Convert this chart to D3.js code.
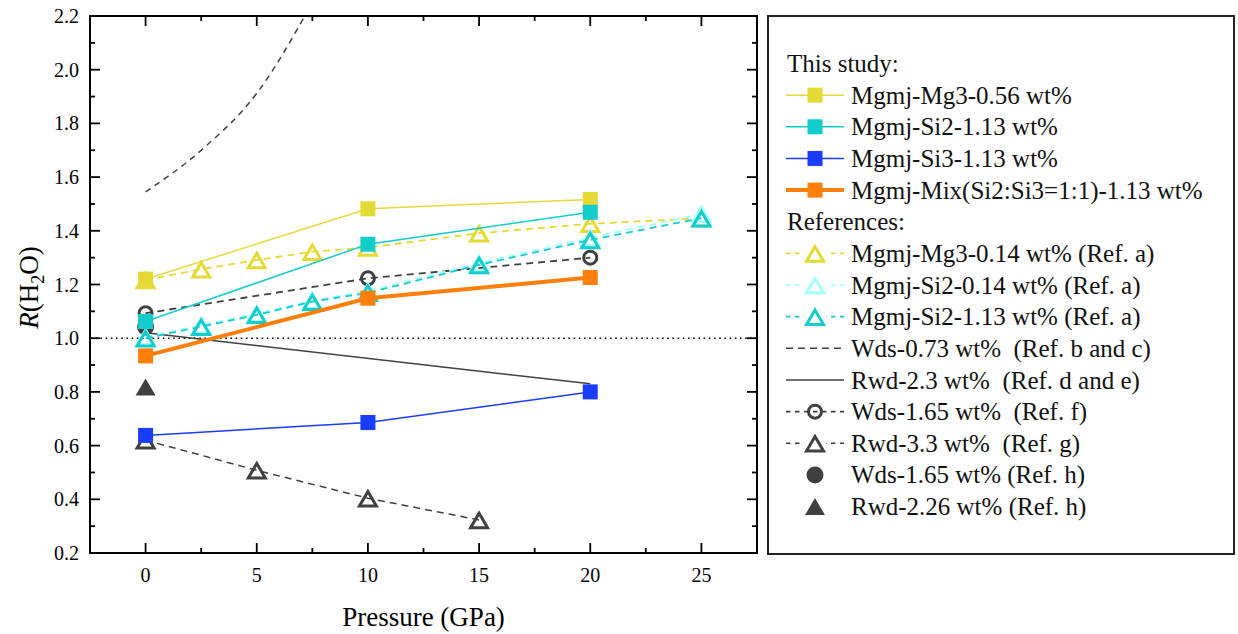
<!DOCTYPE html>
<html>
<head>
<meta charset="utf-8">
<script src="https://cdn.jsdelivr.net/npm/d3@7"></script>
<style>
  body { margin: 0; background: #fff; }
</style>
</head>
<body>
<div id="chart"></div>
<script>
// this study
const studyP = [0, 10, 20];
const mg3_056 = [1.22, 1.482, 1.517];
const si2_113 = [1.062, 1.35, 1.469];
const si3_113 = [0.638, 0.686, 0.80];
const mix_113 = [0.934, 1.149, 1.226];

// references (a)
const refAP = [0, 2.5, 5, 7.5, 10, 15, 20, 25];
const mg3_014 = [1.217, 1.257, 1.291, 1.322, 1.338, 1.391, 1.426, 1.447];
const si2_014 = [1.005, 1.048, 1.092, 1.14, 1.176, 1.28, 1.374, 1.463];
const si2_113a = [1.0, 1.043, 1.087, 1.136, 1.169, 1.273, 1.366, 1.447];

// references b-h
const wdsBcP = [0, 2.5, 5, 7.5];
const wds073 = [1.545, 1.70, 1.912, 2.25];
const rwdDeP = [0, 20];
const rwd23 = [1.02, 0.83];
const wdsFP = [0, 10, 20];
const wds165f = [1.093, 1.223, 1.30];
const rwdGP = [0, 5, 10, 15];
const rwd33 = [0.62, 0.508, 0.404, 0.323];
const wdsHP = [0];
const wds165h = [1.042];
const rwdHP = [0];
const rwd226 = [0.818];

const xTicks = [0, 5, 10, 15, 20, 25];
const xMinor = [2.5, 7.5, 12.5, 17.5, 22.5];
const yTicks = [0.2, 0.4, 0.6, 0.8, 1.0, 1.2, 1.4, 1.6, 1.8, 2.0, 2.2];
const yMinor = [0.3, 0.5, 0.7, 0.9, 1.1, 1.3, 1.5, 1.7, 1.9, 2.1];

const YEL = "#e5d936", CYA = "#14cccc", BLU = "#1a3cff", ORA = "#ff7f0a", DRK = "#404040", LCY = "#a6ffff";
const SERIF = "Liberation Serif, Times New Roman, Times, Tinos, Nimbus Roman, Noto Serif, DejaVu Serif, FreeSerif, serif";

const W = 1238, H = 634;
const plot = {left: 90, right: 757, top: 16, bottom: 553};

const x = d3.scaleLinear().domain([-2.5, 27.5]).range([plot.left, plot.right]);
const y = d3.scaleLinear().domain([0.2, 2.2]).range([plot.bottom, plot.top]);

const svg = d3.select("#chart").append("svg")
  .attr("width", W).attr("height", H)
  .style("font-family", SERIF);
svg.append("rect").attr("width", W).attr("height", H).attr("fill", "#fff");

svg.append("clipPath").attr("id", "clip")
  .append("rect")
  .attr("x", plot.left).attr("y", plot.top)
  .attr("width", plot.right - plot.left).attr("height", plot.bottom - plot.top);

// markers
function triPath(w, h) {
  return "M0," + (-h / 2) + "L" + (w / 2) + "," + (h / 2) + "L" + (-w / 2) + "," + (h / 2) + "Z";
}
function drawMarker(g, type, cx, cy, color) {
  if (type === "square") {
    g.append("rect").attr("x", cx - 7.5).attr("y", cy - 7.5)
      .attr("width", 15).attr("height", 15).attr("fill", color);
  } else if (type === "tri") {
    g.append("path").attr("d", triPath(17, 14.5))
      .attr("transform", "translate(" + cx + "," + (cy + 0.5) + ")")
      .attr("fill", "none").attr("stroke", color).attr("stroke-width", 3);
  } else if (type === "trifill") {
    g.append("path").attr("d", triPath(20, 17))
      .attr("transform", "translate(" + cx + "," + cy + ")")
      .attr("fill", color);
  } else if (type === "circle") {
    g.append("circle").attr("cx", cx).attr("cy", cy).attr("r", 6.5)
      .attr("fill", "none").attr("stroke", color).attr("stroke-width", 3);
  } else if (type === "dot") {
    g.append("circle").attr("cx", cx).attr("cy", cy).attr("r", 8.5)
      .attr("fill", color);
  }
}

const series = [
  {name: "Wds-0.73 wt%  (Ref. b and c)", px: wdsBcP, v: wds073, color: DRK, dash: "6,5", lw: 1.5, marker: null, curve: d3.curveMonotoneX},
  {name: "Rwd-2.3 wt%  (Ref. d and e)", px: rwdDeP, v: rwd23, color: DRK, dash: null, lw: 1.5, marker: null},
  {name: "Wds-1.65 wt%  (Ref. f)", px: wdsFP, v: wds165f, color: DRK, dash: "7,5", lw: 1.8, marker: "circle"},
  {name: "Rwd-3.3 wt%  (Ref. g)", px: rwdGP, v: rwd33, color: DRK, dash: "7,5", lw: 1.5, marker: "tri"},
  {name: "Wds-1.65 wt% (Ref. h)", px: wdsHP, v: wds165h, color: DRK, dash: null, lw: 0, marker: "dot"},
  {name: "Rwd-2.26 wt% (Ref. h)", px: rwdHP, v: rwd226, color: DRK, dash: null, lw: 0, marker: "trifill"},
  {name: "Mgmj-Mg3-0.14 wt% (Ref. a)", px: refAP, v: mg3_014, color: YEL, dash: "7,5", lw: 1.8, marker: "tri"},
  {name: "Mgmj-Si2-0.14 wt% (Ref. a)", px: refAP, v: si2_014, color: LCY, dash: "7,5", lw: 1.8, marker: "tri"},
  {name: "Mgmj-Si2-1.13 wt% (Ref. a)", px: refAP, v: si2_113a, color: CYA, dash: "7,5", lw: 1.8, marker: "tri"},
  {name: "Mgmj-Mg3-0.56 wt%", px: studyP, v: mg3_056, color: YEL, dash: null, lw: 1.5, marker: "square"},
  {name: "Mgmj-Si2-1.13 wt%", px: studyP, v: si2_113, color: CYA, dash: null, lw: 1.5, marker: "square"},
  {name: "Mgmj-Si3-1.13 wt%", px: studyP, v: si3_113, color: BLU, dash: null, lw: 1.5, marker: "square"},
  {name: "Mgmj-Mix(Si2:Si3=1:1)-1.13 wt%", px: studyP, v: mix_113, color: ORA, dash: null, lw: 4, marker: "square"}
];

// reference line at R = 1
svg.append("line")
  .attr("x1", plot.left).attr("x2", plot.right)
  .attr("y1", y(1)).attr("y2", y(1))
  .attr("stroke", "#000").attr("stroke-width", 1.6)
  .attr("stroke-dasharray", "1.6,3.6");

const dataG = svg.append("g").attr("clip-path", "url(#clip)");

series.forEach(s => {
  const pts = s.px.map((p, i) => [p, s.v[i]]);
  if (s.lw > 0 && pts.length > 1) {
    const line = d3.line().x(d => x(d[0])).y(d => y(d[1])).curve(s.curve || d3.curveLinear);
    dataG.append("path").datum(pts)
      .attr("d", line)
      .attr("fill", "none")
      .attr("stroke", s.color)
      .attr("stroke-width", s.lw)
      .attr("stroke-dasharray", s.dash);
  }
  if (s.marker) {
    pts.forEach(d => drawMarker(dataG, s.marker, x(d[0]), y(d[1]), s.color));
  }
});

// axes
const fontTick = 20;
const axisG = svg.append("g");
axisG.append("rect")
  .attr("x", plot.left).attr("y", plot.top)
  .attr("width", plot.right - plot.left).attr("height", plot.bottom - plot.top)
  .attr("fill", "none").attr("stroke", "#000").attr("stroke-width", 2);

function vTick(px, len) {
  axisG.append("line").attr("x1", px).attr("x2", px)
    .attr("y1", plot.bottom).attr("y2", plot.bottom - len).attr("stroke", "#000").attr("stroke-width", 1.8);
  axisG.append("line").attr("x1", px).attr("x2", px)
    .attr("y1", plot.top).attr("y2", plot.top + len).attr("stroke", "#000").attr("stroke-width", 1.8);
}
function hTick(py, len) {
  axisG.append("line").attr("y1", py).attr("y2", py)
    .attr("x1", plot.left).attr("x2", plot.left + len).attr("stroke", "#000").attr("stroke-width", 1.8);
  axisG.append("line").attr("y1", py).attr("y2", py)
    .attr("x1", plot.right).attr("x2", plot.right - len).attr("stroke", "#000").attr("stroke-width", 1.8);
}
xTicks.forEach(t => vTick(x(t), 10));
xMinor.forEach(t => vTick(x(t), 5));
yTicks.forEach(t => hTick(y(t), 10));
yMinor.forEach(t => hTick(y(t), 5));

axisG.selectAll(".xl").data(xTicks).enter().append("text")
  .attr("x", d => x(d)).attr("y", 582)
  .attr("text-anchor", "middle").attr("font-size", fontTick)
  .text(d => d);
axisG.selectAll(".yl").data(yTicks).enter().append("text")
  .attr("x", 79).attr("y", d => y(d) + 7)
  .attr("text-anchor", "end").attr("font-size", fontTick)
  .text(d => d3.format(".1f")(d));

svg.append("text")
  .attr("x", (plot.left + plot.right) / 2).attr("y", 626)
  .attr("text-anchor", "middle").attr("font-size", 27)
  .text("Pressure (GPa)");

const yl = svg.append("text")
  .attr("transform", "translate(38," + ((plot.top + plot.bottom) / 2 + 3) + ") rotate(-90)")
  .attr("text-anchor", "middle").attr("font-size", 27);
yl.append("tspan").attr("font-style", "italic").text("R");
yl.append("tspan").text("(H");
yl.append("tspan").attr("font-size", 18).attr("dy", 6).text("2");
yl.append("tspan").attr("dy", -6).text("O)");

// legend
const leg = svg.append("g");
leg.append("rect")
  .attr("x", 768).attr("y", 16).attr("width", 466).attr("height", 538)
  .attr("fill", "none").attr("stroke", "#222").attr("stroke-width", 2);

const byName = {};
series.forEach(s => byName[s.name] = s);
const legendRows = [
  "This study:",
  "Mgmj-Mg3-0.56 wt%",
  "Mgmj-Si2-1.13 wt%",
  "Mgmj-Si3-1.13 wt%",
  "Mgmj-Mix(Si2:Si3=1:1)-1.13 wt%",
  "References:",
  "Mgmj-Mg3-0.14 wt% (Ref. a)",
  "Mgmj-Si2-0.14 wt% (Ref. a)",
  "Mgmj-Si2-1.13 wt% (Ref. a)",
  "Wds-0.73 wt%  (Ref. b and c)",
  "Rwd-2.3 wt%  (Ref. d and e)",
  "Wds-1.65 wt%  (Ref. f)",
  "Rwd-3.3 wt%  (Ref. g)",
  "Wds-1.65 wt% (Ref. h)",
  "Rwd-2.26 wt% (Ref. h)"
];
legendRows.forEach((name, i) => {
  const cy = 63.5 + i * 31.65;
  const s = byName[name];
  if (!s) {
    leg.append("text").attr("x", 787).attr("y", cy + 8.5)
      .attr("font-size", 25).attr("fill", "#111").text(name);
    return;
  }
  if (s.lw > 0) {
    leg.append("line").attr("x1", 786).attr("x2", 844).attr("y1", cy).attr("y2", cy)
      .attr("stroke", s.color).attr("stroke-width", s.lw)
      .attr("stroke-dasharray", s.dash ? (s.marker ? "4.5,4.5" : "7,5") : null);
  }
  if (s.marker) {
    if (s.marker === "tri") {
      leg.append("rect").attr("x", 804).attr("y", cy - 10).attr("width", 22).attr("height", 20).attr("fill", "#fff");
    }
    drawMarker(leg, s.marker, 815, cy, s.color);
  }
  leg.append("text").attr("x", 851).attr("y", cy + 8.5)
    .attr("font-size", 25).attr("fill", "#111")
    .style("white-space", "pre").text(name);
});
</script>
</body>
</html>
